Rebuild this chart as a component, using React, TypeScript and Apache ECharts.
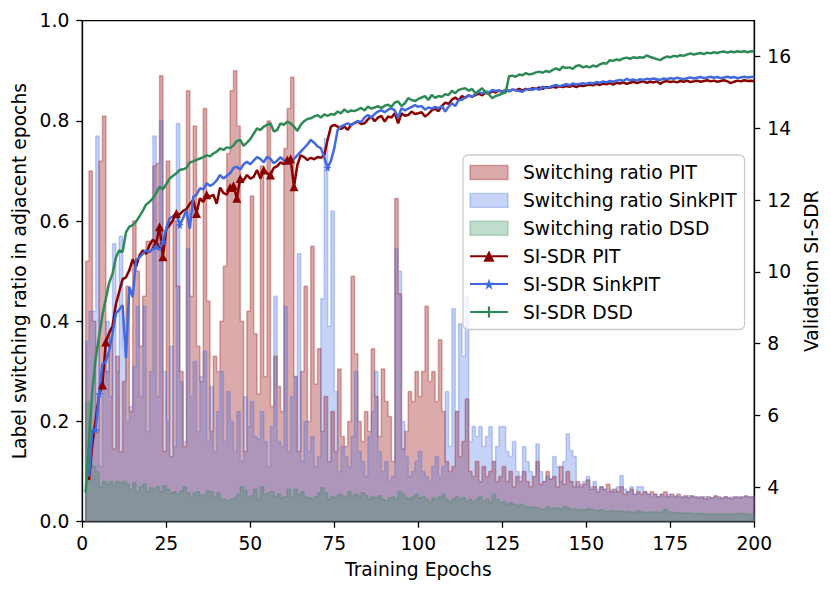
import React, { useEffect, useRef } from "react";
import * as echarts from "echarts";

// Label switching ratio per epoch bin (bins start at epoch 1 .. 199)
const pitRatio = [
  0.52, 0.70, 0.40, 0.18, 0.72, 0.81, 0.30, 0.38, 0.145, 0.33,
  0.14, 0.28, 0.47, 0.22, 0.60, 0.50, 0.35, 0.45, 0.56, 0.56,
  0.71, 0.715, 0.89, 0.14, 0.72, 0.13, 0.60, 0.47, 0.30, 0.15,
  0.86, 0.45, 0.79, 0.35, 0.28, 0.825, 0.44, 0.18, 0.33, 0.30,
  0.40, 0.51, 0.735, 0.86, 0.90, 0.79, 0.40, 0.14, 0.42, 0.65,
  0.375, 0.255, 0.71, 0.29, 0.80, 0.23, 0.33, 0.27, 0.22, 0.745,
  0.825, 0.887, 0.29, 0.14, 0.30, 0.47, 0.20, 0.55, 0.275, 0.345,
  0.18, 0.25, 0.12, 0.22, 0.14, 0.305, 0.17, 0.15, 0.20, 0.49,
  0.335, 0.20, 0.16, 0.22, 0.18, 0.345, 0.25, 0.17, 0.305, 0.24,
  0.21, 0.12, 0.645, 0.455, 0.145, 0.18, 0.26, 0.24, 0.30, 0.25,
  0.30, 0.43, 0.28, 0.30, 0.24, 0.363, 0.22, 0.12, 0.10, 0.11,
  0.22, 0.13, 0.16, 0.245, 0.10, 0.09, 0.12, 0.08, 0.11, 0.09,
  0.10, 0.12, 0.08, 0.09, 0.11, 0.08, 0.10, 0.07, 0.09, 0.08,
  0.10, 0.08, 0.07, 0.09, 0.12, 0.075, 0.08, 0.10, 0.085, 0.09,
  0.07, 0.11, 0.075, 0.10, 0.08, 0.07, 0.08, 0.07, 0.075, 0.083,
  0.065, 0.07, 0.06, 0.07, 0.065, 0.075, 0.06, 0.065, 0.06, 0.07,
  0.055, 0.06, 0.065, 0.055, 0.06, 0.055, 0.06, 0.055, 0.06, 0.055,
  0.05, 0.055, 0.06, 0.05, 0.055, 0.05, 0.055, 0.05, 0.052, 0.048,
  0.052, 0.05, 0.048, 0.05, 0.045, 0.05, 0.048, 0.052, 0.05, 0.047,
  0.05, 0.048, 0.046, 0.05, 0.048, 0.05, 0.052, 0.05, 0.05,
];

const sinkRatio = [
  0.36, 0.42, 0.42, 0.77, 0.11, 0.28, 0.40, 0.25, 0.555, 0.30,
  0.57, 0.35, 0.20, 0.23, 0.31, 0.43, 0.25, 0.43, 0.18, 0.30,
  0.77, 0.25, 0.80, 0.30, 0.20, 0.35, 0.15, 0.795, 0.28, 0.16,
  0.545, 0.25, 0.32, 0.18, 0.29, 0.34, 0.16, 0.27, 0.14, 0.22,
  0.30, 0.16, 0.26, 0.20, 0.14, 0.22, 0.12, 0.25, 0.19, 0.24,
  0.17, 0.165, 0.22, 0.16, 0.11, 0.19, 0.45, 0.16, 0.15, 0.43,
  0.14, 0.25, 0.29, 0.535, 0.12, 0.20, 0.14, 0.17, 0.11, 0.13,
  0.445, 0.765, 0.39, 0.62, 0.26, 0.10, 0.15, 0.13, 0.11, 0.17,
  0.30, 0.14, 0.12, 0.09, 0.17, 0.22, 0.30, 0.14, 0.10, 0.12,
  0.08, 0.09, 0.545, 0.50, 0.20, 0.13, 0.09, 0.10, 0.12, 0.14,
  0.10, 0.09, 0.08, 0.11, 0.13, 0.09, 0.11, 0.26, 0.15, 0.425,
  0.22, 0.395, 0.33, 0.45, 0.16, 0.19, 0.17, 0.19, 0.15, 0.17,
  0.19, 0.12, 0.15, 0.19, 0.19, 0.14, 0.13, 0.16, 0.10, 0.09,
  0.15, 0.12, 0.10, 0.09, 0.155, 0.10, 0.08, 0.09, 0.085, 0.13,
  0.11, 0.08, 0.12, 0.175, 0.142, 0.13, 0.07, 0.075, 0.08, 0.09,
  0.07, 0.08, 0.065, 0.07, 0.065, 0.06, 0.065, 0.06, 0.07, 0.092,
  0.065, 0.06, 0.07, 0.055, 0.07, 0.07, 0.06, 0.055, 0.05, 0.055,
  0.05, 0.055, 0.05, 0.055, 0.05, 0.052, 0.05, 0.048, 0.05, 0.052,
  0.05, 0.048, 0.05, 0.047, 0.05, 0.045, 0.048, 0.05, 0.046, 0.048,
  0.05, 0.047, 0.05, 0.048, 0.05, 0.047, 0.05, 0.049, 0.05,
];

const dsdRatio = [
  0.24, 0.115, 0.11, 0.10, 0.07, 0.08, 0.075, 0.08, 0.072, 0.08,
  0.078, 0.08, 0.075, 0.065, 0.078, 0.06, 0.07, 0.075, 0.06, 0.068,
  0.065, 0.07, 0.06, 0.072, 0.065, 0.058, 0.06, 0.055, 0.062, 0.07,
  0.058, 0.05, 0.058, 0.06, 0.052, 0.055, 0.062, 0.06, 0.05, 0.058,
  0.045, 0.045, 0.042, 0.045, 0.048, 0.055, 0.07, 0.062, 0.05, 0.052,
  0.065, 0.045, 0.07, 0.055, 0.058, 0.06, 0.05, 0.055, 0.048, 0.05,
  0.065, 0.05, 0.065, 0.055, 0.06, 0.05, 0.048, 0.045, 0.05, 0.058,
  0.068, 0.058, 0.045, 0.05, 0.048, 0.055, 0.052, 0.05, 0.06, 0.052,
  0.055, 0.05, 0.058, 0.052, 0.045, 0.05, 0.048, 0.052, 0.045, 0.042,
  0.048, 0.05, 0.045, 0.06, 0.055, 0.048, 0.045, 0.05, 0.055, 0.048,
  0.05, 0.045, 0.04, 0.048, 0.045, 0.05, 0.055, 0.045, 0.04, 0.045,
  0.05, 0.045, 0.048, 0.042, 0.045, 0.04, 0.045, 0.05, 0.042, 0.045,
  0.04, 0.055, 0.045, 0.038, 0.04, 0.035, 0.038, 0.035, 0.032, 0.035,
  0.032, 0.03, 0.028, 0.03, 0.028, 0.025, 0.026, 0.03, 0.025, 0.027,
  0.028, 0.026, 0.03, 0.028, 0.025, 0.026, 0.024, 0.025, 0.023, 0.026,
  0.025, 0.023, 0.022, 0.024, 0.022, 0.02, 0.022, 0.021, 0.02, 0.022,
  0.02, 0.021, 0.019, 0.02, 0.022, 0.02, 0.019, 0.018, 0.02, 0.019,
  0.018, 0.02, 0.025, 0.02, 0.018, 0.019, 0.018, 0.017, 0.018, 0.017,
  0.016, 0.017, 0.016, 0.017, 0.015, 0.016, 0.015, 0.016, 0.015, 0.016,
  0.015, 0.014, 0.016, 0.015, 0.017, 0.016, 0.015, 0.014, 0.015,
];

// Validation SI-SDR per epoch (epochs 1 .. 200)
const pitSdr = [
  null, 4.2, 5.2, 5.9, 6.6, 6.85, 8.05, 8.3, 8.5, 9.1,
  9.45, 9.8, 9.85, 10.05, 10.35, 10.15, 10.45, 10.6, 10.5, 10.75,
  10.9, 10.8, 11.26, 10.42, 11.2, 11.3, 11.45, 11.63, 11.6, 11.7,
  11.75, 11.9, 12.0, 11.63, 12.05, 11.95, 12.15, 12.1, 12.15, 11.9,
  12.35, 12.2, 12.15, 12.35, 12.4, 12.05, 12.6, 12.55, 12.7, 12.6,
  12.65, 12.84, 12.6, 12.84, 12.75, 12.7, 12.9, 12.95, 13.05, 13.0,
  13.12, 13.15, 12.37, 12.98, 13.25, 13.2, 13.12, 13.18, 13.14, 13.2,
  13.18, 13.25, 13.68, 14.05, 14.1, 14.05, 13.98, 14.05, 13.96, 14.1,
  14.15, 14.19, 14.12, 14.14, 14.25, 14.33, 14.2, 14.3, 14.35, 14.19,
  14.33, 14.3, 14.42, 14.14, 14.42, 14.35, 14.37, 14.47, 14.4, 14.42,
  14.45, 14.33, 14.4, 14.5, 14.55, 14.48, 14.62, 14.72, 14.68, 14.8,
  14.86, 14.78, 14.9, 14.85, 14.92, 14.88, 14.93, 14.97, 14.92, 15.0,
  14.96, 15.04, 15.0, 15.05, 15.02, 15.07, 15.04, 15.08, 15.06, 15.1,
  15.05, 15.1, 15.08, 15.12, 15.1, 15.14, 15.1, 15.15, 15.13, 15.16,
  15.14, 15.17, 15.15, 15.18, 15.16, 15.19, 15.15, 15.2, 15.18, 15.2,
  15.22, 15.2, 15.24, 15.21, 15.25, 15.23, 15.26, 15.22, 15.27, 15.25,
  15.28, 15.24, 15.27, 15.3, 15.26, 15.29, 15.31, 15.27, 15.3, 15.28,
  15.31, 15.24, 15.3, 15.32, 15.29, 15.31, 15.28, 15.32, 15.3, 15.33,
  15.29, 15.31, 15.33, 15.3, 15.32, 15.34, 15.31, 15.33, 15.3, 15.32,
  15.34, 15.31, 15.26, 15.3, 15.33, 15.31, 15.34, 15.32, 15.33, 15.32,
];

const sinkSdr = [
  null, 4.3, 5.6, 5.6, 6.6, 7.44, 7.5, 7.8, 8.28, 8.84,
  8.95, 9.07, 7.6, 9.58, 9.3, 10.33, 10.4, 10.51, 10.61, 10.55,
  10.65, 10.7, 10.62, 10.84, 11.21, 11.49, 11.55, 11.63, 11.3, 11.5,
  11.72, 11.2, 12.09, 12.15, 12.33, 12.3, 12.47, 12.4, 12.45, 12.55,
  12.7, 12.6, 12.68, 12.75, 12.9, 12.93, 12.85, 13.0, 13.07, 13.0,
  13.1, 13.2, 13.15, 13.05, 13.21, 13.15, 13.03, 13.1, 13.2, 13.1,
  13.0, 13.05, 13.15, 13.25, 13.35, 13.45, 13.55, 13.68, 13.6, 13.5,
  13.45, 13.2, 12.9, 13.1, 13.45, 13.96, 14.05, 14.1, 14.14, 14.1,
  14.15, 14.2, 14.18, 14.3, 14.37, 14.3, 14.4, 14.47, 14.5, 14.45,
  14.52, 14.56, 14.5, 14.3, 14.56, 14.5, 14.55, 14.6, 14.65, 14.6,
  14.62, 14.52, 14.58, 14.55, 14.6, 14.56, 14.62, 14.47, 14.6, 14.7,
  14.62, 14.79, 14.8, 14.86, 14.92, 14.88, 14.95, 15.02, 14.97, 15.03,
  15.0, 15.07, 15.04, 15.06, 15.02, 15.07, 15.03, 15.08, 15.06, 15.04,
  15.02, 15.08, 15.1, 15.07, 15.12, 15.07, 15.16, 15.12, 15.15, 15.18,
  15.21, 15.17, 15.2, 15.23, 15.2, 15.25, 15.22, 15.24, 15.26, 15.24,
  15.27, 15.25, 15.29, 15.27, 15.31, 15.28, 15.32, 15.3, 15.33, 15.35,
  15.32, 15.38, 15.34, 15.36, 15.33, 15.37, 15.35, 15.38, 15.36, 15.39,
  15.37, 15.35, 15.39, 15.37, 15.4, 15.38, 15.41, 15.39, 15.37, 15.4,
  15.42, 15.39, 15.41, 15.43, 15.4, 15.42, 15.44, 15.41, 15.43, 15.4,
  15.42, 15.44, 15.41, 15.43, 15.4, 15.42, 15.44, 15.42, 15.43, 15.44,
];

const dsdSdr = [
  3.85, 5.3, 6.7, 7.6, 8.2, 8.8, 9.25, 9.7, 9.95, 10.4,
  10.6, 10.56, 11.1, 11.26, 11.3, 11.4, 11.55, 11.7, 11.88, 11.95,
  12.05, 12.2, 12.37, 12.3, 12.45, 12.6, 12.68, 12.75, 12.84, 12.86,
  12.9, 13.05, 13.08, 13.12, 13.16, 13.2, 13.25, 13.22, 13.3, 13.35,
  13.44, 13.4, 13.47, 13.45, 13.52, 13.65, 13.68, 13.51, 13.6, 13.7,
  13.85, 14.0, 13.95, 14.05, 14.1, 14.14, 13.91, 13.96, 14.14, 14.1,
  14.19, 14.14, 14.05, 13.93, 14.1, 14.2, 14.26, 14.28, 14.33, 14.37,
  14.3, 14.39, 14.35, 14.4, 14.38, 14.47, 14.42, 14.53, 14.45, 14.5,
  14.48, 14.52, 14.57, 14.5, 14.61, 14.55, 14.58, 14.62, 14.56, 14.63,
  14.66, 14.6, 14.72, 14.75, 14.62, 14.7, 14.84, 14.79, 14.76, 14.82,
  14.86, 14.9, 14.79, 14.93, 14.85, 14.9, 14.88, 14.95, 14.93, 15.05,
  14.98, 15.07, 15.1, 15.12, 15.05, 15.1, 14.97, 15.05, 15.12, 15.0,
  14.95, 14.84, 14.9, 14.93, 14.97, 15.0, 15.45, 15.47, 15.44, 15.5,
  15.48, 15.54, 15.5, 15.52, 15.56, 15.58, 15.55, 15.6, 15.57, 15.63,
  15.67, 15.62, 15.72, 15.68, 15.7, 15.66, 15.74, 15.76, 15.7, 15.73,
  15.7, 15.75, 15.72, 15.78, 15.82, 15.8, 15.9, 15.88, 15.92, 15.9,
  15.95, 15.97, 15.94, 15.98, 15.96, 15.98, 15.97, 16.03, 15.99, 15.96,
  15.93, 15.9, 15.96, 16.0, 15.98, 16.02, 16.0, 16.04, 16.02, 16.06,
  16.09, 16.06, 16.08, 16.1, 16.07, 16.11, 16.09, 16.12, 16.1, 16.13,
  16.14, 16.11, 16.14, 16.12, 16.15, 16.13, 16.15, 16.12, 16.15, 16.14,
];

// Epochs at which markers are drawn on each SI-SDR curve
const pitMarks = [6, 7, 22, 23, 24, 28, 34, 37, 44, 45, 46, 47, 54, 56, 61, 62, 63];
const sinkMarks = [4, 5, 22, 24, 29, 73];
const dsdMarks: number[] = [];

const rightTicks = [4, 6, 8, 10, 12, 14, 16];

const FONT = "DejaVu Sans";
const FS = 18.7;
const PIT_FILL = "rgba(165,42,42,0.4)";
const SINK_FILL = "rgba(65,105,225,0.3)";
const DSD_FILL = "rgba(46,139,87,0.3)";
const PIT_LINE = "#8B0000";
const SINK_LINE = "#4169E1";
const DSD_LINE = "#2E8B57";

const STAR = "path://M50,0 L61.2,34.5 L97.6,34.5 L68.2,55.9 L79.4,90.5 L50,69.1 L20.6,90.5 L31.8,55.9 L2.4,34.5 L38.8,34.5 Z";
const PLUS = "path://M4,0H6V4H10V6H6V10H4V6H0V4H4Z";

function toSteps(vals: number[]) {
  const n = vals.length;
  const pts: number[][] = [[1, 0]];
  vals.forEach((v, i) => pts.push([i + 1, v]));
  pts.push([n + 1, vals[n - 1]]);
  pts.push([n + 1, 0]);
  return pts;
}

function toLine(vals: (number | null)[], marks: number[]) {
  const out: any[] = [];
  vals.forEach((v, i) => {
    if (v === null) return;
    const e = i + 1;
    if (marks.includes(e)) out.push({ value: [e, v] });
    else out.push({ value: [e, v], symbol: "none" });
  });
  return out;
}

function histSeries(name: string, vals: number[], fill: string) {
  return {
    name,
    type: "line",
    step: "end",
    data: toSteps(vals),
    xAxisIndex: 0,
    yAxisIndex: 0,
    symbol: "none",
    silent: true,
    lineStyle: { color: fill, width: 1.5 },
    itemStyle: { color: fill },
    areaStyle: { color: fill, opacity: 1 },
    z: 1,
  };
}

function sdrSeries(name: string, vals: (number | null)[], marks: number[], color: string, symbol: string, size: number) {
  return {
    name,
    type: "line",
    data: toLine(vals, marks),
    xAxisIndex: 0,
    yAxisIndex: 1,
    symbol,
    symbolSize: size,
    showSymbol: true,
    showAllSymbol: true,
    silent: true,
    lineStyle: { color, width: 2.5 },
    itemStyle: { color },
    z: 3,
  };
}

export default function App() {
  const ref = useRef<HTMLDivElement>(null);
  useEffect(() => {
    if (!ref.current) return;
    const chart = echarts.init(ref.current, undefined, { renderer: "svg" });
    const axisText = { fontSize: FS, color: "#000", fontFamily: FONT };
    const blackLine = { color: "#000", width: 1.3 };
    chart.setOption({
      animation: false,
      textStyle: { fontFamily: FONT },
      grid: {
        left: 82.3,
        right: 76.7,
        top: 20.7,
        bottom: 71.3,
        show: true,
        borderColor: "#000",
        borderWidth: 1.3,
        backgroundColor: "transparent",
      },
      xAxis: {
        type: "value",
        min: 0,
        max: 200,
        interval: 25,
        name: "Training Epochs",
        nameLocation: "middle",
        nameGap: 38,
        nameTextStyle: axisText,
        axisLine: { show: true, onZero: false, lineStyle: blackLine },
        axisTick: { show: true, inside: false, length: 6, lineStyle: blackLine },
        axisLabel: { ...axisText, margin: 12.5 },
        splitLine: { show: false },
      },
      yAxis: [
        {
          type: "value",
          min: 0,
          max: 1,
          interval: 0.2,
          position: "left",
          name: "Label switching ratio in adjacent epochs",
          nameLocation: "middle",
          nameGap: 50,
          nameTextStyle: axisText,
          axisLine: { show: true, onZero: false, lineStyle: blackLine },
          axisTick: { show: true, inside: false, length: 6, lineStyle: blackLine },
          axisLabel: { ...axisText, margin: 13, formatter: (v: number) => v.toFixed(1) },
          splitLine: { show: false },
        },
        {
          type: "value",
          min: 3.04,
          max: 17.0,
          position: "right",
          name: "Validation SI-SDR",
          nameLocation: "middle",
          nameGap: 34,
          nameRotate: 90,
          nameTextStyle: axisText,
          axisLine: { show: true, onZero: false, lineStyle: blackLine },
          axisTick: { show: true, inside: false, length: 6, lineStyle: blackLine, customValues: rightTicks },
          axisLabel: { ...axisText, margin: 13, customValues: rightTicks },
          splitLine: { show: false },
        },
      ],
      legend: {
        orient: "vertical",
        left: 463,
        top: 155,
        padding: [8, 8, 8, 6],
        itemWidth: 38,
        itemHeight: 14,
        itemGap: 8.9,
        backgroundColor: "rgba(255,255,255,0.8)",
        borderColor: "#cccccc",
        borderWidth: 1.3,
        borderRadius: 5,
        textStyle: { fontSize: FS, color: "#000", fontFamily: FONT, padding: [0, 0, 0, 10] },
        selectedMode: false,
        data: [
          { name: "Switching ratio PIT", icon: "rect", itemStyle: { color: PIT_FILL, borderColor: PIT_FILL, borderWidth: 1.4 } },
          { name: "Switching ratio SinkPIT", icon: "rect", itemStyle: { color: SINK_FILL, borderColor: SINK_FILL, borderWidth: 1.4 } },
          { name: "Switching ratio DSD", icon: "rect", itemStyle: { color: DSD_FILL, borderColor: DSD_FILL, borderWidth: 1.4 } },
          { name: "SI-SDR PIT" },
          { name: "SI-SDR SinkPIT" },
          { name: "SI-SDR DSD" },
        ],
      },
      series: [
        histSeries("Switching ratio PIT", pitRatio, PIT_FILL),
        histSeries("Switching ratio SinkPIT", sinkRatio, SINK_FILL),
        histSeries("Switching ratio DSD", dsdRatio, DSD_FILL),
        sdrSeries("SI-SDR PIT", pitSdr, pitMarks, PIT_LINE, "triangle", 9),
        sdrSeries("SI-SDR SinkPIT", sinkSdr, sinkMarks, SINK_LINE, STAR, 8),
        sdrSeries("SI-SDR DSD", dsdSdr, dsdMarks, DSD_LINE, PLUS, 8),
      ],
    });
    return () => chart.dispose();
  }, []);
  return (
    <div
      ref={ref}
      style={{ position: "absolute", left: 0, top: 0, width: 831, height: 593, background: "#fff" }}
    />
  );
}
